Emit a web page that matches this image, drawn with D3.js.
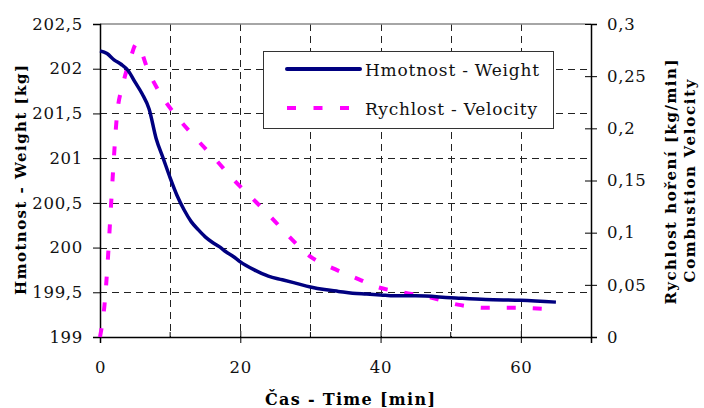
<!DOCTYPE html>
<html>
<head>
<meta charset="utf-8">
<script src="https://cdn.jsdelivr.net/npm/d3@7"></script>
<style>
  body { margin: 0; background: #fff; }
  svg { display: block; font-family: "DejaVu Serif", serif; }
</style>
</head>
<body>
<svg id="chart" width="704" height="408"></svg>
<script>
// weight curve [min, kg]
var weightTime = [0,1,2,3,4,5,6,7,8,9,10,11,12,13,14,15,16,17,18,19,20,22,24,26,28,30,32,34,36,38,40,42,45,50,55,60,65];
var weightKg = [202.20,202.17,202.10,202.05,201.98,201.85,201.72,201.55,201.22,201.00,200.78,200.58,200.42,200.29,200.20,200.12,200.06,200.01,199.95,199.90,199.84,199.75,199.68,199.64,199.60,199.56,199.53,199.51,199.49,199.48,199.47,199.46,199.46,199.44,199.42,199.41,199.39];

// combustion velocity [min, kg/min]
var velTime = [0,0.7,1.05,1.45,1.9,2.4,3.3,4.3,5.2,7,9,11,14,16.5,19,21.7,24.5,27,30,33.5,37,39.5,43,47,51,55,59,63,65];
var velValue = [0,0.035,0.067,0.112,0.163,0.211,0.243,0.266,0.281,0.253,0.229,0.211,0.188,0.170,0.151,0.133,0.114,0.096,0.077,0.065,0.055,0.048,0.043,0.038,0.031,0.028,0.028,0.027,0.026];

var xTicks = [0,20,40,60];
var xMinor = [10,30,50];
var xGrid = [10,20,30,40,50,60];
var leftTicks = [199,199.5,200,200.5,201,201.5,202,202.5];
var rightTicks = [0,0.05,0.1,0.15,0.2,0.25,0.3];

var seriesNames = ["Hmotnost - Weight", "Rychlost - Velocity"];

var svg = d3.select("#chart");
var L = 100, R = 591, T = 24, B = 337;

var x = d3.scaleLinear().domain([0, 70]).range([L, R]);
var yL = d3.scaleLinear().domain([199, 202.5]).range([B, T]);
var yR = d3.scaleLinear().domain([0, 0.3]).range([B, T]);

var cz = d3.formatLocale({decimal: ",", thousands: " ", grouping: [3], currency: ["", ""]});
var fmt = cz.format("~g");

// grid
svg.append("g").selectAll("line")
  .data(leftTicks.slice(1, -1))
  .enter().append("line")
  .attr("x1", L).attr("x2", R)
  .attr("y1", function(d){ return Math.round(yL(d)) + 0.5; })
  .attr("y2", function(d){ return Math.round(yL(d)) + 0.5; })
  .attr("stroke", "#222").attr("stroke-dasharray", "7,5");

svg.append("g").selectAll("line")
  .data(xGrid)
  .enter().append("line")
  .attr("x1", function(d){ return Math.round(x(d)) + 0.5; })
  .attr("x2", function(d){ return Math.round(x(d)) + 0.5; })
  .attr("y1", T).attr("y2", B)
  .attr("stroke", "#222").attr("stroke-dasharray", "7,5");

// top border
svg.append("line").attr("x1", L).attr("x2", R).attr("y1", T).attr("y2", T)
  .attr("stroke", "#888").attr("stroke-width", 1.5);

// axes
var gL = svg.append("g").attr("transform", "translate(" + L + ",0)")
  .call(d3.axisLeft(yL).tickValues(leftTicks).tickFormat(fmt).tickSize(7).tickPadding(10));
var gR = svg.append("g").attr("transform", "translate(" + R + ",0)")
  .call(d3.axisRight(yR).tickValues(rightTicks).tickFormat(fmt).tickSize(6).tickPadding(10));
gR.selectAll(".tick line").attr("x1", -6);
var gX = svg.append("g").attr("transform", "translate(0," + B + ")")
  .call(d3.axisBottom(x).tickValues(xTicks).tickFormat(fmt).tickSize(6).tickPadding(18));
gX.selectAll(".tick line").attr("y1", -6);
svg.append("g").selectAll("line").data(xMinor).enter().append("line")
  .attr("x1", function(d){ return x(d); }).attr("x2", function(d){ return x(d); })
  .attr("y1", B - 5).attr("y2", B).attr("stroke", "#000");

[gL, gR, gX].forEach(function(g){
  g.select(".domain").attr("stroke", "#000").attr("stroke-width", 1.5);
  g.selectAll(".tick line").attr("stroke", "#000");
  g.selectAll(".tick text").attr("font-family", "DejaVu Serif").attr("font-size", 16.5)
    .attr("letter-spacing", 0.7).attr("fill", "#111");
});

// lines
var lineW = d3.line().curve(d3.curveMonotoneX)
  .x(function(d, i){ return x(weightTime[i]); })
  .y(function(d){ return yL(d); });
var lineV = d3.line().curve(d3.curveMonotoneX)
  .x(function(d, i){ return x(velTime[i]); })
  .y(function(d){ return yR(d); });

svg.append("path").datum(velValue).attr("d", lineV)
  .attr("fill", "none").attr("stroke", "#ff00ff").attr("stroke-width", 4)
  .attr("stroke-dasharray", "9,17");
svg.append("path").datum(weightKg).attr("d", lineW)
  .attr("fill", "none").attr("stroke", "#000080").attr("stroke-width", 3.5)
  .attr("stroke-linejoin", "round");

// legend
var lg = svg.append("g");
lg.append("rect").attr("x", 263.5).attr("y", 51.5).attr("width", 290).attr("height", 77)
  .attr("fill", "#fff").attr("stroke", "#333").attr("stroke-width", 1);
lg.append("line").attr("x1", 287).attr("x2", 360).attr("y1", 69).attr("y2", 69)
  .attr("stroke", "#000080").attr("stroke-width", 4).attr("stroke-linecap", "round");
lg.append("line").attr("x1", 287).attr("x2", 351).attr("y1", 108).attr("y2", 108)
  .attr("stroke", "#ff00ff").attr("stroke-width", 4).attr("stroke-dasharray", "9,17.5");
var legendLen = [174, 172];
lg.selectAll("text").data(seriesNames).enter().append("text")
  .attr("x", 365).attr("y", function(d, i){ return 76 + i * 39; })
  .attr("font-size", 17).attr("fill", "#111")
  .attr("textLength", function(d, i){ return legendLen[i]; })
  .attr("lengthAdjust", "spacing")
  .text(function(d){ return d; });

// axis titles
function title(tx, ty, rot, txt, size, len) {
  svg.append("text")
    .attr("transform", "translate(" + tx + "," + ty + ")" + (rot ? " rotate(-90)" : ""))
    .attr("text-anchor", "middle").attr("font-weight", "bold").attr("font-size", size)
    .attr("textLength", len).attr("lengthAdjust", "spacing")
    .text(txt);
}
title(26, 180, true, "Hmotnost - Weight [kg]", 15, 230);
title(676, 182, true, "Rychlost hoření [kg/min]", 15, 245);
title(695, 181, true, "Combustion Velocity", 15, 203);
title(350, 405, false, "Čas - Time [min]", 16, 170);
</script>
</body>
</html>
